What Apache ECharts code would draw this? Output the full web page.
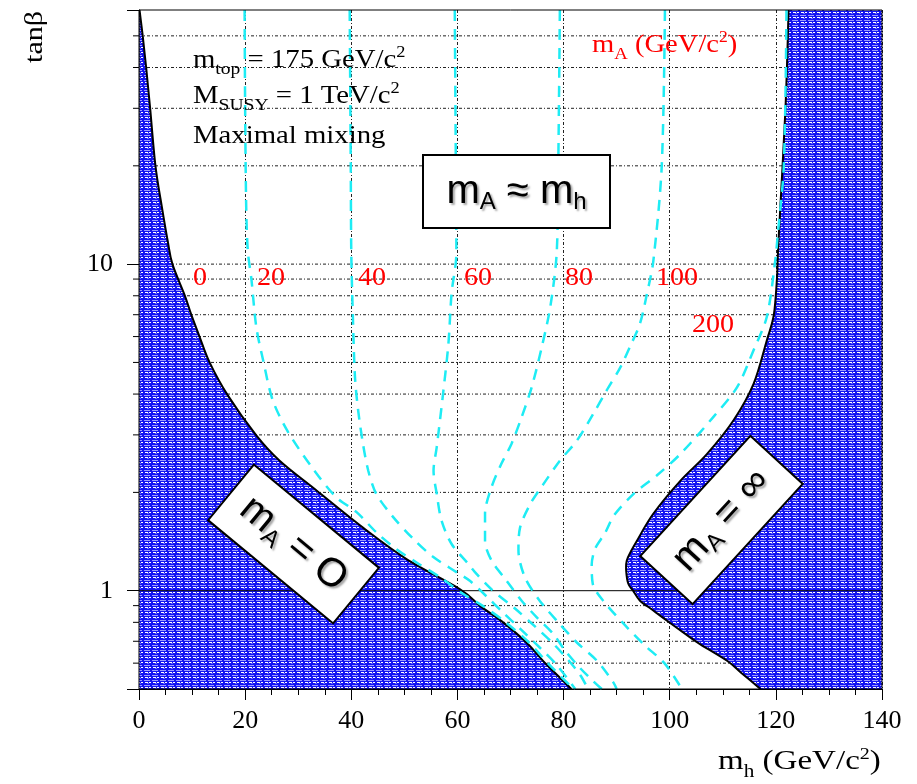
<!DOCTYPE html>
<html><head><meta charset="utf-8">
<script src="https://cdn.jsdelivr.net/npm/echarts@6/dist/echarts.min.js"></script>
<style>html,body{margin:0;padding:0;background:#fff}#c{width:917px;height:784px}</style>
</head><body><div id="c"></div>
<script>
// ---- axis values ----
const xMin = 0, xMax = 140, xStep = 20;
const yMin = 0.5, yMax = 60;
const yMajorLabels = [1, 10];
const yMinorTicks = [0.6, 0.7, 0.8, 0.9, 2, 3, 4, 5, 6, 7, 8, 9, 20, 30, 40, 50];
const yDottedGrid = [0.6, 0.7, 0.8, 0.9, 2, 3, 4, 5, 6, 7, 8, 9, 10, 20, 30, 40, 50];
const ySolidGrid = [1];

// ---- excluded regions boundaries [m_h, tanβ] ----
const boundaryMA0 = [[0.1,60],[0.7,50],[1.35,40],[2.1,30],[3.1,20],[4.3,15],[5.4,11.8],[6.3,10],[8.6,8.04],[9.85,7.0],[11.4,6.0],[13.3,5.0],[16.7,3.97],[22.1,2.99],[26.5,2.5],[33.4,2.03],[42.2,1.56],[50.4,1.25],[60.5,1.01],[64.2,0.9],[68.6,0.8],[73.0,0.694],[76.8,0.594],[81.5,0.5]];
const boundaryMAinf = [[117.1,0.5],[113.5,0.56],[110.8,0.61],[105.7,0.686],[102.8,0.74],[99.5,0.809],[96.9,0.87],[94.4,0.932],[93.1,1.0],[92.2,1.05],[91.8,1.15],[91.9,1.236],[92.7,1.32],[93.8,1.42],[96.9,1.72],[102.0,2.17],[107.0,2.62],[112.0,3.32],[115.8,4.3],[118.3,5.85],[119.6,6.96],[120.2,9.0],[120.5,11.8],[121.8,29.7],[122.4,60]];

// ---- m_A contours (GeV/c^2) ----
const contourMA20 = [[19.9,60],[20.0,30],[20.2,15],[20.5,11.0],[21.2,8.93],[22.1,6.42],[23.4,5.07],[25.2,3.83],[28.1,3.06],[32.8,2.36],[37.2,1.93],[41.0,1.74],[44.7,1.51],[48.5,1.34],[52.3,1.22],[56.7,1.1],[61.1,0.977],[64.7,0.9],[69.1,0.8],[73.5,0.694],[77.3,0.594],[81.9,0.5]];
const contourMA40 = [[39.7,60],[39.9,20],[40.0,10.8],[40.3,6.9],[40.7,4.5],[41.3,3.56],[42.2,2.82],[43.2,2.33],[44.7,1.98],[47.9,1.68],[51.7,1.44],[55.4,1.27],[59.8,1.14],[62.4,1.07],[65.5,0.96],[68.5,0.86],[72.0,0.76],[75.5,0.67],[78.8,0.59],[82.2,0.5]];
const contourMA60 = [[59.5,60],[59.7,20],[59.8,10.8],[58.9,8.15],[58.3,5.7],[57.3,4.02],[56.1,2.75],[55.5,2.33],[56.1,1.98],[57.0,1.64],[58.9,1.39],[62.0,1.21],[63.3,1.14],[66.4,1.01],[70.9,0.88],[74.5,0.78],[78.0,0.69],[81.0,0.61],[83.2,0.55],[84.6,0.5]];
const contourMA80 = [[79.3,60],[79.0,20],[78.7,10.8],[77.5,7.4],[75.9,5.58],[74.0,4.2],[72.1,3.4],[70.2,2.82],[68.3,2.45],[66.4,2.07],[65.2,1.72],[65.2,1.42],[66.4,1.24],[69.3,1.07],[72.1,0.932],[74.9,0.83],[78.1,0.736],[80.3,0.655],[83.1,0.58],[85.5,0.53],[87.2,0.5]];
const contourMA100 = [[99.1,60],[98.5,20],[96.9,10.18],[95.7,8.1],[94.4,6.58],[92.5,5.58],[90.7,4.83],[88.1,4.1],[85.6,3.48],[82.5,2.88],[79.3,2.5],[76.2,2.12],[73.7,1.84],[71.8,1.56],[71.5,1.33],[72.7,1.1],[75.5,0.932],[79.3,0.79],[82.5,0.694],[86.3,0.61],[89.4,0.523],[90.0,0.5]];
const contourMA200 = [[122.0,60],[121.5,20],[120.3,12],[119.9,10.3],[118.3,6.9],[115.8,5.45],[112.7,4.2],[108.2,3.4],[102.0,2.62],[97.5,2.25],[93.2,1.98],[89.5,1.7],[87.8,1.5],[86.0,1.35],[85.3,1.2],[85.5,1.05],[87.5,0.93],[91.7,0.78],[95.3,0.68],[99.0,0.6],[102.3,0.5]];
const contours = [contourMA20, contourMA40, contourMA60, contourMA80, contourMA100, contourMA200];

// ---- hatch pattern for excluded regions ----
function makePattern() {
  const c = document.createElement('canvas');
  c.width = 8; c.height = 5;
  const g = c.getContext('2d');
  g.fillStyle = '#1414f2'; g.fillRect(0, 0, 8, 5);
  g.fillStyle = '#9a9aff'; g.fillRect(0, 0, 6, 1);
  g.fillStyle = '#ffffff'; g.fillRect(1, 2, 3, 1); g.fillRect(5, 2, 2, 1);
  g.fillStyle = '#6a6aff'; g.fillRect(3, 3, 2, 1);
  return c;
}
const pattern = { image: makePattern(), repeat: 'repeat' };

// smooth (Catmull-Rom) path through pixel points given by the axes
function splinePath(P) {
  let d = 'M' + P[0][0].toFixed(2) + ' ' + P[0][1].toFixed(2);
  const n = P.length;
  for (let i = 0; i < n - 1; i++) {
    const p0 = P[Math.max(i - 1, 0)], p1 = P[i], p2 = P[i + 1], p3 = P[Math.min(i + 2, n - 1)];
    const c1 = [p1[0] + (p2[0] - p0[0]) / 6, p1[1] + (p2[1] - p0[1]) / 6];
    const c2 = [p2[0] - (p3[0] - p1[0]) / 6, p2[1] - (p3[1] - p1[1]) / 6];
    d += ' C' + c1[0].toFixed(2) + ' ' + c1[1].toFixed(2) + ' ' + c2[0].toFixed(2) + ' ' + c2[1].toFixed(2) + ' ' + p2[0].toFixed(2) + ' ' + p2[1].toFixed(2);
  }
  return d;
}

function regionSeries(points, closing) {
  return {
    type: 'custom', z: 2, clip: true, silent: true,
    data: [[0, 1]],
    renderItem: function (params, api) {
      const curve = splinePath(points.map(p => api.coord(p)));
      const tail = closing.map(p => { const q = api.coord(p); return ' L' + q[0] + ' ' + q[1]; }).join('') + ' Z';
      return {
        type: 'group',
        children: [
          { type: 'path', shape: { pathData: curve + tail }, style: { fill: pattern, stroke: null } },
          { type: 'path', z2: 5, shape: { pathData: curve }, style: { fill: null, stroke: '#000', lineWidth: 2 } }
        ]
      };
    }
  };
}

const chart = echarts.init(document.getElementById('c'), null, { renderer: 'canvas' });
const serif = 'Liberation Serif';
const sans = 'Liberation Sans';

const series = [
  {
    type: 'custom', z: 1, silent: true,
    data: yDottedGrid.map(v => [xMin, v]),
    renderItem: function (params, api) {
      const v = api.value(1);
      const a = api.coord([xMin, v]), b = api.coord([xMax, v]);
      return { type: 'line', shape: { x1: a[0], y1: a[1], x2: b[0], y2: b[1] },
        style: { stroke: '#222', lineWidth: 1, lineDash: [3, 2, 1, 2] } };
    }
  },
  regionSeries(boundaryMA0, [[0, yMin]]),
  regionSeries(boundaryMAinf, [[xMax, yMax], [xMax, yMin]]),
  {
    type: 'custom', z: 3, silent: true,
    data: ySolidGrid.map(v => [xMin, v]),
    renderItem: function (params, api) {
      const v = api.value(1);
      const a = api.coord([xMin, v]), b = api.coord([xMax, v]);
      return { type: 'line', shape: { x1: a[0], y1: a[1], x2: b[0], y2: b[1] },
        style: { stroke: '#000', lineWidth: 1 } };
    }
  }
];
contours.forEach(c => series.push({
  type: 'line', z: 4, data: c, showSymbol: false, symbol: 'none', silent: true, smooth: 0.3,
  lineStyle: { color: '#1eecf4', width: 2.5, type: [11, 8] }
}));
series.push({
  type: 'custom', z: 6, silent: true, clip: false,
  data: yMinorTicks.map(v => [xMin, v]),
  renderItem: function (params, api) {
    const v = api.value(1);
    const a = api.coord([xMin, v]);
    return { type: 'line', shape: { x1: a[0] - 6, y1: a[1], x2: a[0], y2: a[1] },
      style: { stroke: '#000', lineWidth: 1 } };
  }
});
series.push({
  type: 'custom', z: 6, silent: true, clip: false,
  data: [[xMin, yMin]],
  renderItem: function (params, api) {
    const a = api.coord([xMin, yMin]), b = api.coord([xMax, yMax]);
    return { type: 'rect', shape: { x: a[0], y: b[1], width: b[0] - a[0], height: a[1] - b[1] },
      style: { fill: null, stroke: '#000', lineWidth: 1 } };
  }
});

function boxGroup(cx, cy, w, h, rotDeg, rich, text) {
  return {
    type: 'group', x: cx, y: cy, rotation: rotDeg * Math.PI / 180, z: 50,
    children: [
      { type: 'rect', z: 50, shape: { x: -w / 2, y: -h / 2, width: w, height: h },
        style: { fill: '#fff', stroke: '#000', lineWidth: 2 } },
      { type: 'text', z: 51, x: 0, y: 0,
        style: { text: text, align: 'center', verticalAlign: 'middle', rich: rich } }
    ]
  };
}
const shadow = { textShadowColor: 'rgba(0,0,0,0.35)', textShadowOffsetX: 2, textShadowOffsetY: 2, textShadowBlur: 2 };
const boxRich = {
  m: Object.assign({ fontFamily: sans, fontSize: 40, lineHeight: 44, fill: '#000' }, shadow),
  s: Object.assign({ fontFamily: sans, fontSize: 24, lineHeight: 24, padding: [22, 0, 0, 0], fill: '#000' }, shadow)
};
const serifRich = (size, color) => ({
  t: { fontFamily: serif, fontSize: size, fill: color, lineHeight: size + 6 },
  sub: { fontFamily: serif, fontSize: Math.round(size * 0.66), fill: color, lineHeight: 16, padding: [20, 0, 0, 0] },
  sup: { fontFamily: serif, fontSize: Math.round(size * 0.62), fill: color, lineHeight: 14, padding: [0, 0, 15, 0] }
});

const graphic = [
  { type: 'text', x: 193, y: 60, scaleX: 1.15, z: 50, style: { text: '{t|m}{sub|top}{t| = 175 GeV/c}{sup|2}', verticalAlign: 'middle', rich: serifRich(25, '#000') } },
  { type: 'text', x: 193, y: 96, scaleX: 1.15, z: 50, style: { text: '{t|M}{sub|SUSY}{t| = 1 TeV/c}{sup|2}', verticalAlign: 'middle', rich: serifRich(25, '#000') } },
  { type: 'text', x: 193, y: 136, scaleX: 1.15, z: 50, style: { text: '{t|Maximal mixing}', verticalAlign: 'middle', rich: serifRich(25, '#000') } },
  { type: 'text', x: 592, y: 45, scaleX: 1.1, z: 50, style: { text: '{t|m}{sub|A}{t| (GeV/c}{sup|2}{t|)}', verticalAlign: 'middle', rich: serifRich(26, '#f00') } },
  { type: 'text', x: 718, y: 762, scaleX: 1.18, z: 50, style: { text: '{t|m}{sub|h}{t| (GeV/c}{sup|2}{t|)}', verticalAlign: 'middle', rich: serifRich(28, '#000') } },
  { type: 'text', x: 35, y: 37, rotation: Math.PI / 2, scaleX: 1.2, z: 50, style: { text: 'tanβ', align: 'center', verticalAlign: 'middle', fontFamily: serif, fontSize: 25, fill: '#000' } },
  boxGroup(516.5, 191.5, 187, 73, 0, boxRich, '{m|m}{s|A}{m| ≈ m}{s|h}'),
  boxGroup(293.5, 544, 162, 72, -39.5, boxRich, '{m|m}{s|A}{m| = O}'),
  boxGroup(721.5, 520, 163, 71, 47.5, boxRich, '{m|m}{s|A}{m| = ∞}')
];
const redLabels = [['0', 200, 278], ['20', 271, 278], ['40', 372, 278], ['60', 478, 278], ['80', 579, 278], ['100', 677, 278], ['200', 713, 325]];
redLabels.forEach(l => graphic.push({ type: 'text', x: l[1], y: l[2], scaleX: 1.08, z: 50,
  style: { text: l[0], align: 'center', verticalAlign: 'middle', fontFamily: serif, fontSize: 26, fill: '#f00' } }));

chart.setOption({
  animation: false,
  backgroundColor: '#fff',
  grid: { left: 139, right: 35, top: 10, bottom: 95, containLabel: false },
  xAxis: {
    type: 'value', min: xMin, max: xMax, interval: xStep,
    axisLine: { show: true, onZero: false, lineStyle: { color: '#000', width: 1 } },
    axisTick: { show: true, inside: false, length: 11, lineStyle: { color: '#000' } },
    minorTick: { show: true, splitNumber: 4, length: 6, lineStyle: { color: '#000' } },
    axisLabel: { margin: 19, fontFamily: serif, fontSize: 26, color: '#000' },
    splitLine: { show: true, lineStyle: { color: '#222', width: 1, type: [3, 2, 1, 2] } }
  },
  yAxis: {
    type: 'log', logBase: 10, min: yMin, max: yMax,
    axisLine: { show: true, onZero: false, lineStyle: { color: '#000', width: 1 } },
    axisTick: { show: true, inside: false, length: 12, lineStyle: { color: '#000' } },
    axisLabel: { margin: 26, fontFamily: serif, fontSize: 26, color: '#000',
      formatter: v => (yMajorLabels.some(m => Math.abs(m - v) < 1e-6) ? String(v) : '') },
    splitLine: { show: false }
  },
  series: series,
  graphic: graphic
});
</script>
</body></html>
